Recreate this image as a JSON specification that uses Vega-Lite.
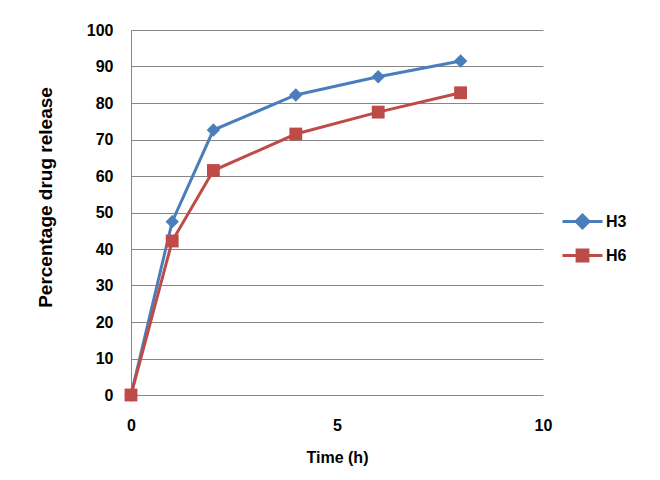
{
  "$schema": "https://vega.github.io/schema/vega-lite/v6.json",
  "autosize": {"type": "none"},
  "padding": {"left": 131, "top": 30, "right": 117, "bottom": 85},
  "width": 412,
  "height": 365,
  "background": "white",
  "config": {
    "view": {"stroke": null},
    "font": "Liberation Sans"
  },
  "data": {
    "values": [
      {"t": 0, "r": 0, "s": "H3"},
      {"t": 1, "r": 47.5, "s": "H3"},
      {"t": 2, "r": 72.6, "s": "H3"},
      {"t": 4, "r": 82.2, "s": "H3"},
      {"t": 6, "r": 87.2, "s": "H3"},
      {"t": 8, "r": 91.5, "s": "H3"},
      {"t": 0, "r": 0, "s": "H6"},
      {"t": 1, "r": 42.2, "s": "H6"},
      {"t": 2, "r": 61.5, "s": "H6"},
      {"t": 4, "r": 71.5, "s": "H6"},
      {"t": 6, "r": 77.5, "s": "H6"},
      {"t": 8, "r": 82.8, "s": "H6"}
    ]
  },
  "encoding": {
    "x": {
      "field": "t", "type": "quantitative",
      "scale": {"domain": [0, 10], "nice": false},
      "axis": {
        "title": "Time (h)", "values": [0, 5, 10], "grid": false, "domain": false, "ticks": false,
        "labelPadding": 22, "labelFontSize": 16, "labelFontWeight": "bold", "labelColor": "black",
        "titleFontSize": 16, "titleFontWeight": "bold", "titleColor": "black", "titlePadding": 16,
        "labelFlush": false
      }
    },
    "y": {
      "field": "r", "type": "quantitative",
      "scale": {"domain": [0, 100], "nice": false},
      "axis": {
        "title": "Percentage drug release", "values": [0, 10, 20, 30, 40, 50, 60, 70, 80, 90, 100],
        "grid": true, "gridColor": "#868686", "gridWidth": 1, "gridOpacity": 1,
        "domain": true, "domainColor": "#868686", "domainWidth": 1, "ticks": false,
        "labelPadding": 18, "labelFontSize": 16, "labelFontWeight": "bold", "labelColor": "black",
        "titleFontSize": 19, "titleFontWeight": "bold", "titleColor": "black", "titlePadding": 31,
        "titleY": 167,
        "labelFlush": false
      }
    },
    "color": {
      "field": "s", "type": "nominal",
      "scale": {"domain": ["H3", "H6"], "range": ["#4A7EBB", "#BE4B48"]},
      "legend": {
        "title": null, "orient": "none", "legendX": 430, "legendY": 170,
        "labelFontSize": 16, "labelFontWeight": "bold", "labelColor": "black",
        "symbolSize": 1600, "labelOffset": 2, "rowPadding": -8,
        "encode": {
          "symbols": {
            "update": {
              "shape": {"signal": "datum.value == 'H3' ? 'M-1,0H1M0,-0.32L0.32,0L0,0.32L-0.32,0Z' : 'M-1,0H1M-0.27,-0.27H0.27V0.27H-0.27Z'"},
              "size": {"value": 1600},
              "fill": {"signal": "datum.value == 'H3' ? '#4A7EBB' : '#BE4B48'"},
              "stroke": {"signal": "datum.value == 'H3' ? '#4A7EBB' : '#BE4B48'"},
              "strokeWidth": {"value": 3},
              "opacity": {"value": 1},
              "fillOpacity": {"value": 1}
            }
          }
        }
      }
    }
  },
  "layer": [
    {"mark": {"type": "line", "strokeWidth": 3}},
    {
      "transform": [{"filter": "datum.s == 'H3'"}],
      "mark": {"type": "point", "filled": true, "opacity": 1, "size": 180, "shape": "diamond"}
    },
    {
      "transform": [{"filter": "datum.s == 'H6'"}],
      "mark": {"type": "point", "filled": true, "opacity": 1, "size": 165, "shape": "square"}
    }
  ]
}
